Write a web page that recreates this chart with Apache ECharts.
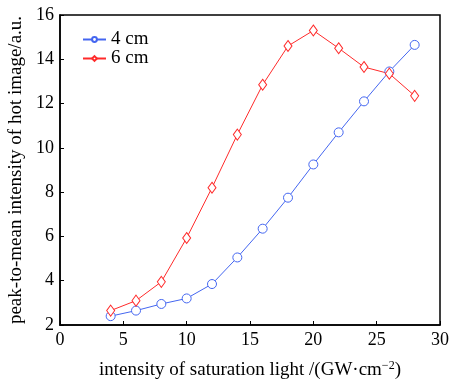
<!DOCTYPE html>
<html><head><meta charset="utf-8">
<script src="https://cdn.jsdelivr.net/npm/echarts@6/dist/echarts.min.js"></script>
<style>html,body{margin:0;padding:0;background:#fff}#c{width:452px;height:383px}</style>
</head><body><div id="c"></div>
<script>
const xValues = [4, 6, 8, 10, 12, 14, 16, 18, 20, 22, 24, 26, 28];
const series4cm = [2.4, 2.65, 2.95, 3.2, 3.85, 5.05, 6.35, 7.75, 9.25, 10.7, 12.1, 13.45, 14.65];
const series6cm = [2.65, 3.1, 3.95, 5.93, 8.2, 10.6, 12.85, 14.6, 15.3, 14.5, 13.65, 13.35, 12.35];
const seriesNames = ['4 cm', '6 cm'];
const xTicks = [0, 5, 10, 15, 20, 25, 30];
const yTicks = [2, 4, 6, 8, 10, 12, 14, 16];

const font = 'Liberation Serif';
const blue = '#4466f0', red = '#ff2a2a';
const chart = echarts.init(document.getElementById('c'));
chart.setOption({
  animation: false,
  grid: { left: 60, right: 12, top: 15, bottom: 58, outerBoundsMode: 'none', containLabel: false,
    show: true, borderColor: '#000', borderWidth: 1.5, backgroundColor: 'transparent' },
  legend: {
    left: 77, top: 25, orient: 'vertical', itemGap: 0, itemWidth: 23, itemHeight: 6,
    textStyle: { fontFamily: font, fontSize: 19, color: '#000', lineHeight: 18 },
    data: seriesNames
  },
  xAxis: {
    type: 'value', min: xTicks[0], max: xTicks[xTicks.length-1], interval: 5,
    axisLine: { lineStyle: { color: '#000', width: 1.5 } },
    axisTick: { inside: true, length: 4, lineStyle: { color: '#000' } },
    splitLine: { show: false },
    axisLabel: { fontFamily: font, fontSize: 18, color: '#000', margin: 6 },
    name: 'intensity of saturation light /(GW·cm{s|−2})',
    nameLocation: 'middle', nameGap: 35,
    nameTextStyle: { fontFamily: font, fontSize: 19, color: '#000',
      rich: { s: { fontFamily: font, fontSize: 12, verticalAlign: 'top', padding: [0,0,9,0] } } }
  },
  yAxis: {
    type: 'value', min: yTicks[0], max: yTicks[yTicks.length-1], interval: 2,
    axisLine: { lineStyle: { color: '#000', width: 1.5 } },
    axisTick: { inside: true, length: 4, lineStyle: { color: '#000' } },
    splitLine: { show: false },
    axisLabel: { fontFamily: font, fontSize: 18, color: '#000', margin: 6 },
    name: 'peak-to-mean intensity of hot image/a.u.',
    nameLocation: 'middle', nameGap: 27,
    nameTextStyle: { fontFamily: font, fontSize: 19, color: '#000' }
  },
  series: [
    { name: seriesNames[0], type: 'line', data: xValues.map((x,i)=>[x, series4cm[i]]),
      symbol: 'circle', symbolSize: 9,
      lineStyle: { color: blue, width: 1 }, itemStyle: { color: '#fff', borderColor: blue, borderWidth: 1 } },
    { name: seriesNames[1], type: 'line', data: xValues.map((x,i)=>[x, series6cm[i]]),
      symbol: 'path://M0,-1L0.7,0L0,1L-0.7,0Z', symbolSize: [8, 11],
      lineStyle: { color: red, width: 1 }, itemStyle: { color: '#fff', borderColor: red, borderWidth: 1 } }
  ]
});
</script></body></html>
